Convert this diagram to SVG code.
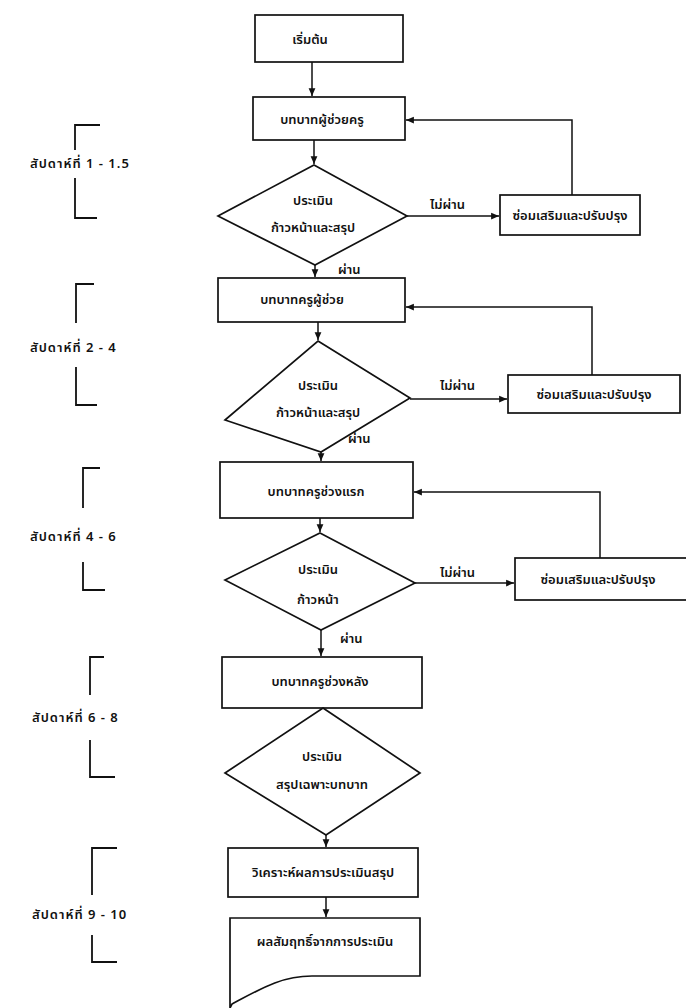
<svg xmlns="http://www.w3.org/2000/svg" width="686" height="1008" viewBox="0 0 686 1008">
<style>
.n{fill:#fff;stroke:#111;stroke-width:1.7}
.c{fill:none;stroke:#111;stroke-width:1.5}
.b{fill:none;stroke:#111;stroke-width:1.8}
text{font-family:"Noto Sans Thai","Loma","Garuda","Tlwg Typo","Norasi","DejaVu Sans",sans-serif;fill:#111;font-size:13px;font-weight:600}
.m{text-anchor:middle}
.w{letter-spacing:1px}
</style>
<defs>
<marker id="ah" viewBox="0 0 8 8" refX="7" refY="4" markerWidth="6" markerHeight="6" orient="auto"><path d="M0,1 L7,4 L0,7 Z" fill="#111"/></marker>
</defs>
<rect width="686" height="1008" fill="#fff"/>
<g id="connectors">
<path class="c" d="M312,62 V96" marker-end="url(#ah)"/>
<path class="c" d="M314,140 V164" marker-end="url(#ah)"/>
<path class="c" d="M407,216 H499" marker-end="url(#ah)"/>
<path class="c" d="M572,195 V120 H406" marker-end="url(#ah)"/>
<path class="c" d="M315,265 V277" marker-end="url(#ah)"/>
<path class="c" d="M318,322 V340" marker-end="url(#ah)"/>
<path class="c" d="M410,399 H507" marker-end="url(#ah)"/>
<path class="c" d="M592,375 V307 H406" marker-end="url(#ah)"/>
<path class="c" d="M321,452 V461" marker-end="url(#ah)"/>
<path class="c" d="M320,518 V532" marker-end="url(#ah)"/>
<path class="c" d="M415,583 H514" marker-end="url(#ah)"/>
<path class="c" d="M600,558 V492 H414" marker-end="url(#ah)"/>
<path class="c" d="M321,630 V656" marker-end="url(#ah)"/>
<path class="c" d="M326,835 V847" marker-end="url(#ah)"/>
<path class="c" d="M326,897 V917" marker-end="url(#ah)"/>
</g>
<g id="labels">
<text x="430" y="209">ไม่ผ่าน</text>
<text x="338" y="274">ผ่าน</text>
<text x="440" y="390">ไม่ผ่าน</text>
<text x="348" y="443">ผ่าน</text>
<text x="440" y="577">ไม่ผ่าน</text>
<text x="340" y="643">ผ่าน</text>
</g>
<g id="start"><rect class="n" x="255" y="15" width="148" height="47"/><text class="m" x="310" y="44">เริ่มต้น</text></g>
<g id="role1"><rect class="n" x="253" y="97" width="152" height="43"/><text class="m" x="322" y="124">บทบาทผู้ช่วยครู</text></g>
<g id="eval1"><polygon class="n" points="314,165 407,216 315,265 218,216"/><text class="m" x="313" y="205">ประเมิน</text><text class="m" x="313" y="232">ก้าวหน้าและสรุป</text></g>
<g id="fix1"><rect class="n" x="500" y="195" width="140" height="40"/><text class="m" x="570" y="220">ซ่อมเสริมและปรับปรุง</text></g>
<g id="role2"><rect class="n" x="218" y="278" width="187" height="44"/><text class="m" x="302" y="304">บทบาทครูผู้ช่วย</text></g>
<g id="eval2"><polygon class="n" points="318,341 410,398 321,452 225,420"/><text class="m" x="318" y="390">ประเมิน</text><text class="m" x="318" y="417">ก้าวหน้าและสรุป</text></g>
<g id="fix2"><rect class="n" x="508" y="375" width="172" height="38"/><text class="m" x="594" y="399">ซ่อมเสริมและปรับปรุง</text></g>
<g id="role3"><rect class="n" x="220" y="462" width="193" height="56"/><text class="m" x="316" y="496">บทบาทครูช่วงแรก</text></g>
<g id="eval3"><polygon class="n" points="320,533 415,583 321,630 225,580"/><text class="m" x="318" y="574">ประเมิน</text><text class="m" x="318" y="604">ก้าวหน้า</text></g>
<g id="fix3"><rect class="n" x="515" y="558" width="180" height="42"/><text class="m" x="598" y="584">ซ่อมเสริมและปรับปรุง</text></g>
<g id="role4"><rect class="n" x="222" y="657" width="200" height="51"/><text class="m" x="320" y="686">บทบาทครูช่วงหลัง</text></g>
<g id="eval4"><polygon class="n" points="323,708 420,773 326,835 225,773"/><text class="m" x="322" y="761">ประเมิน</text><text class="m" x="322" y="789">สรุปเฉพาะบทบาท</text></g>
<g id="analyze"><rect class="n" x="228" y="848" width="190" height="49"/><text class="m" x="323" y="877">วิเคราะห์ผลการประเมินสรุป</text></g>
<g id="result"><path class="n" d="M230,918 H420 V976 H312 C282,976 262,988 232,1004 L230,1008 Z"/><text class="m" x="325" y="946">ผลสัมฤทธิ์จากการประเมิน</text></g>
<g id="weeks">
<path class="b" d="M100,125 H75 V150 M75,178 V218 H97"/>
<text class="w" x="30" y="168">สัปดาห์ที่ 1 - 1.5</text>
<path class="b" d="M94,284 H76 V323 M76,367 V405 H97"/>
<text class="w" x="30" y="352">สัปดาห์ที่ 2 - 4</text>
<path class="b" d="M100,468 H83 V508 M83,562 V590 H105"/>
<text class="w" x="30" y="541">สัปดาห์ที่ 4 - 6</text>
<path class="b" d="M104,657 H90 V695 M90,740 V777 H115"/>
<text class="w" x="32" y="722">สัปดาห์ที่ 6 - 8</text>
<path class="b" d="M117,848 H92 V895 M92,935 V962 H117"/>
<text class="w" x="32" y="919">สัปดาห์ที่ 9 - 10</text>
</g>
</svg>
